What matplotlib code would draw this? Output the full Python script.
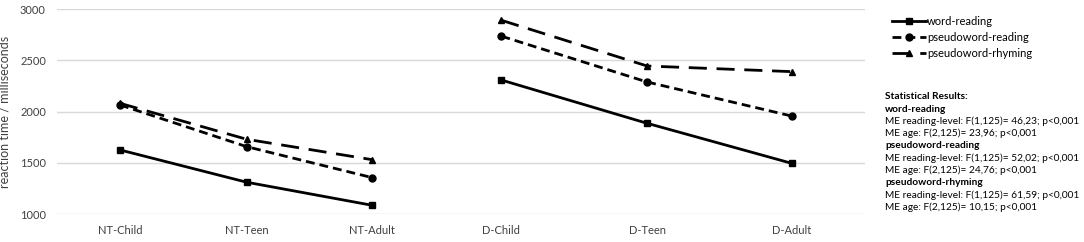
import matplotlib
matplotlib.use("Agg")
import matplotlib.pyplot as plt

plt.rcParams["font.family"] = ["Lato", "DejaVu Sans"]

# categories and values (reaction time in ms)
groups_nt = ["NT-Child", "NT-Teen", "NT-Adult"]
groups_d = ["D-Child", "D-Teen", "D-Adult"]

word_nt = [1625, 1310, 1085]
word_d = [2307, 1885, 1495]
pseudo_read_nt = [2064, 1657, 1355]
pseudo_read_d = [2735, 2288, 1956]
pseudo_rhyme_nt = [2080, 1729, 1530]
pseudo_rhyme_d = [2890, 2444, 2389]

stats_lines = [
    ("Statistical Results:", True),
    ("word-reading", True),
    ("ME reading-level: F(1,125)= 46,23; p<0,001", False),
    ("ME age: F(2,125)= 23,96; p<0,001", False),
    ("pseudoword-reading", True),
    ("ME reading-level: F(1,125)= 52,02; p<0,001", False),
    ("ME age: F(2,125)= 24,76; p<0,001", False),
    ("pseudoword-rhyming", True),
    ("ME reading-level: F(1,125)= 61,59; p<0,001", False),
    ("ME age: F(2,125)= 10,15; p<0,001", False),
]

# category positions along x (the original spacing is not quite even)
x_nt = [0, 1.0, 1.99]
x_d = [3.01, 4.16, 5.30]

fig = plt.figure(figsize=(10.84, 2.42), dpi=100)
ax = fig.add_axes([0.0526, 0.1157, 0.7454, 0.8471])

series = [
    ("word-reading", word_nt, word_d, "s", None),
    ("pseudoword-reading", pseudo_read_nt, pseudo_read_d, "o", (0, (3.2, 1.8))),
    ("pseudoword-rhyming", pseudo_rhyme_nt, pseudo_rhyme_d, "^", (0, (6.5, 3.5))),
]

handles = []
for name, v_nt, v_d, mk, dash in series:
    kw = dict(color="black", lw=2.0, marker=mk, markersize=5)
    if dash is not None:
        kw["linestyle"] = dash
    h, = ax.plot(x_nt, v_nt, label=name, **kw)
    ax.plot(x_d, v_d, **kw)
    handles.append(h)

ax.set_ylim(1000, 3000)
ax.set_yticks([1000, 1500, 2000, 2500, 3000])
ax.set_xlim(-0.497, 5.88)
ax.set_xticks(x_nt + x_d)
ax.set_xticklabels(groups_nt + groups_d)
ax.grid(axis="y", color="#d9d9d9", lw=1.0)
ax.set_axisbelow(True)
for s in ax.spines.values():
    s.set_visible(False)
ax.tick_params(length=0, labelsize=8, colors="#404040", pad=8)
ax.tick_params(axis="y", pad=8)
ax.set_ylabel("reaction time / milliseconds", fontsize=9, color="#404040")
ax.yaxis.set_label_coords(-0.058, 0.5)

fig.legend(handles=handles, loc="upper left", bbox_to_anchor=(0.814, 0.975),
           frameon=False, fontsize=8, handlelength=3.0, numpoints=1,
           labelspacing=0.45, handletextpad=0.1)

y0 = 1 - 96.7 / 242
for i, (txt, bold) in enumerate(stats_lines):
    fig.text(0.8165, y0 - i * 12.3 / 242, txt, fontsize=7.3, color="black",
             fontweight="bold" if bold else "normal", va="center", ha="left")

fig.savefig("out.png", dpi=100)
